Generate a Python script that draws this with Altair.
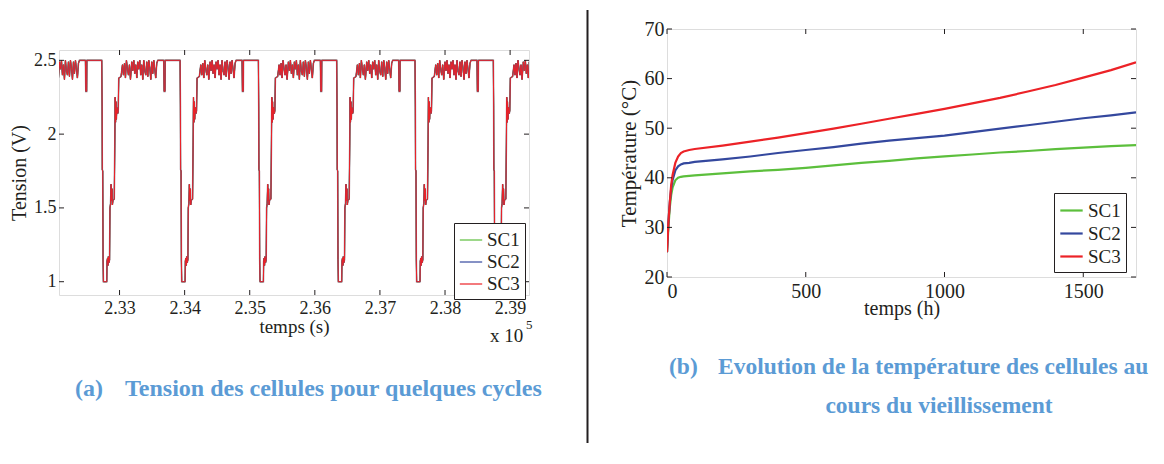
import altair as alt
import pandas as pd

FONT = "Liberation Serif"
INK = "#231f20"
CAPTION = "#5b9bd5"

CELLS = ["SC1", "SC2", "SC3"]
COLORS = ["#5cbf3c", "#34489e", "#ec2227"]

# ---------- (a) voltage over a few cycles ----------
CYCLE_STARTS = [231524, 232727, 233930, 235133, 236336, 237539, 238742]
CYCLE_OFFSETS = [0, 5, 8, 15, 20, 25, 77, 81, 89, 95, 101, 111, 120, 126, 135, 143,
                 149, 157, 163, 172, 192, 200, 206, 212, 218, 224, 233, 246, 253, 261,
                 296, 318, 333, 349, 364, 379, 395, 410, 425, 441, 461, 476, 492, 507,
                 522, 538, 553, 568, 584, 599, 614, 630, 645, 660, 676, 691, 707, 722,
                 737, 753, 768, 783, 799, 814, 829, 845, 860, 880, 952, 958, 971, 974, 1201]
CYCLE_VOLTS = [2.50, 2.19, 1.76, 1.75, 1.15, 1.00, 1.00, 1.14, 1.16, 1.11, 1.17, 1.13, 1.15, 1.50,
               1.53, 1.66, 1.55, 1.63, 1.52, 1.55, 1.56, 1.92, 2.25, 2.08, 2.22, 2.10, 2.18, 2.14,
               2.16, 2.38, 2.39, 2.47, 2.40, 2.48, 2.38, 2.50, 2.44, 2.40, 2.47, 2.37, 2.49, 2.43,
               2.50, 2.41, 2.47, 2.38, 2.49, 2.44, 2.50, 2.40, 2.47, 2.37, 2.50, 2.43, 2.40, 2.49,
               2.39, 2.50, 2.45, 2.37, 2.49, 2.41, 2.50, 2.44, 2.38, 2.48, 2.50, 2.50, 2.50, 2.29,
               2.29, 2.50, 2.50]
XT_A = [233000, 234000, 235000, 236000, 237000, 238000, 239000]
YT_A = [1, 1.5, 2, 2.5]
XDOM_A = [232070, 239290]
YDOM_A = [0.91, 2.57]

# ---------- (b) temperature during ageing ----------
HOURS = [0, 5, 10, 15, 20, 30, 40, 50, 60, 80, 100, 200, 300, 400, 500, 600, 700, 800,
         900, 1000, 1100, 1200, 1300, 1400, 1500, 1600, 1690]
T_SC1 = [25.0, 30.0, 34.0, 36.5, 38.0, 39.5, 40.0, 40.2, 40.3, 40.4, 40.5, 40.9, 41.3, 41.6,
         42.0, 42.5, 43.0, 43.4, 43.9, 44.3, 44.7, 45.1, 45.4, 45.8, 46.1, 46.4, 46.6]
T_SC2 = [25.0, 31.0, 35.0, 37.8, 39.5, 41.5, 42.3, 42.7, 42.9, 43.0, 43.2, 43.7, 44.3, 45.0,
         45.6, 46.2, 46.9, 47.5, 48.0, 48.5, 49.2, 49.9, 50.6, 51.3, 52.0, 52.6, 53.2]
T_SC3 = [25.0, 31.0, 35.0, 38.5, 40.5, 43.0, 44.3, 45.0, 45.3, 45.6, 45.8, 46.5, 47.3, 48.1,
         49.0, 49.9, 50.9, 51.9, 52.9, 53.9, 55.0, 56.1, 57.4, 58.7, 60.2, 61.7, 63.3]
XT_B = [0, 500, 1000, 1500]
YT_B = [20, 30, 40, 50, 60, 70]
XDOM_B = [0, 1690]
YDOM_B = [20, 70]

W_A, H_A = 470, 245
W_B, H_B = 469, 248

rows = []
for cell in CELLS:
    for s in CYCLE_STARTS:
        for o, v in zip(CYCLE_OFFSETS, CYCLE_VOLTS):
            rows.append({"cell": cell, "t": s + o, "v": v})
df_a = pd.DataFrame(rows)

rows = []
for cell, temps in zip(CELLS, [T_SC1, T_SC2, T_SC3]):
    for h, t in zip(HOURS, temps):
        rows.append({"cell": cell, "h": h, "temp": t})
df_b = pd.DataFrame(rows)


def make_axis(title, values, lsize, tsize, lpad, tx, ty, angle=0, fmt=None, expr=None):
    kw = dict(title=title, values=values, domain=False, ticks=False, tickSize=0, grid=False,
              labelFont=FONT, labelFontSize=lsize, labelColor=INK, labelPadding=lpad,
              titleFont=FONT, titleFontSize=tsize, titleFontWeight="normal", titleColor=INK,
              titleX=tx, titleY=ty, titleAngle=angle, titleAlign="center", titleBaseline="middle")
    if fmt:
        kw["format"] = fmt
    if expr:
        kw["labelExpr"] = expr
    return alt.Axis(**kw)


def inner_ticks(xvals, yvals, xs, ys, xax, yax, W, H, L=5):
    dx = pd.DataFrame({"tx": xvals})
    dy = pd.DataFrame({"ty": yvals})
    base_x = alt.Chart(dx).mark_rule(color=INK, strokeWidth=1)
    base_y = alt.Chart(dy).mark_rule(color=INK, strokeWidth=1)
    xe = alt.X("tx:Q", scale=xs, axis=xax)
    ye = alt.Y("ty:Q", scale=ys, axis=yax)
    return [
        base_x.encode(x=xe, y=alt.value(0), y2=alt.value(L)),
        base_x.encode(x=xe, y=alt.value(H), y2=alt.value(H - L)),
        base_y.encode(y=ye, x=alt.value(0), x2=alt.value(L)),
        base_y.encode(y=ye, x=alt.value(W), x2=alt.value(W - L)),
    ]


def text(s, x, y, size, color=INK, weight="normal", align="left", baseline="middle"):
    return alt.Chart(pd.DataFrame({"s": [s]})).mark_text(
        font=FONT, fontSize=size, color=color, fontWeight=weight, align=align, baseline=baseline
    ).encode(text="s:N", x=alt.value(x), y=alt.value(y))


def legend(lx, ly, sw):
    return alt.Legend(title=None, orient="none", legendX=lx, legendY=ly, symbolType="stroke",
                      symbolSize=500, symbolStrokeWidth=sw, labelFont=FONT, labelFontSize=19,
                      labelColor=INK, strokeColor=INK, fillColor="white", padding=5,
                      rowPadding=0, labelOffset=4, direction="vertical")


# ----- panel (a) -----
xs_a = alt.Scale(domain=XDOM_A, nice=False, zero=False)
ys_a = alt.Scale(domain=YDOM_A, nice=False, zero=False)
xax_a = make_axis("temps (s)", XT_A, 18, 19, 4, W_A / 2, 31, expr="format(datum.value/100000,'.2f')")
yax_a = make_axis("Tension (V)", YT_A, 18, 20, 3, -40, H_A / 2, angle=270, fmt="~g")
xa = alt.X("t:Q", scale=xs_a, axis=xax_a)
ya = alt.Y("v:Q", scale=ys_a, axis=yax_a)

under_a = alt.Chart(df_a[df_a.cell == "SC2"]).mark_line(clip=True, color="#6a4a60", strokeWidth=1.6,
                                                        opacity=0.7).encode(x=xa, y=ya)
lines_a = alt.Chart(df_a).mark_line(clip=True, strokeWidth=1.0).encode(
    x=xa, y=ya,
    color=alt.Color("cell:N", scale=alt.Scale(domain=CELLS, range=COLORS), legend=legend(395, 173, 1.2)),
)
left = alt.layer(
    under_a, lines_a,
    *inner_ticks(XT_A, YT_A, xs_a, ys_a, xax_a, yax_a, W_A, H_A),
    text("x 10", 431, 286, 19),
    text("5", 467, 275, 13),
    text("(a)", 16, 339, 24, CAPTION, "bold"),
    text("Tension des cellules pour quelques cycles", 66, 339, 24, CAPTION, "bold"),
).properties(width=W_A, height=H_A)

spacer = alt.Chart(pd.DataFrame({"a": [0]})).mark_point(opacity=0, size=1).encode(
    x=alt.value(0), y=alt.value(0)
).properties(width=10, height=20, view=alt.ViewBackground(strokeOpacity=0))

left_block = alt.vconcat(spacer, left, spacing=0).resolve_legend(color="independent")

# ----- panel (b) -----
xs_b = alt.Scale(domain=XDOM_B, nice=False, zero=False)
ys_b = alt.Scale(domain=YDOM_B, nice=False, zero=False)
xax_b = make_axis("temps (h)", XT_B, 20, 20, 4, W_B / 2, 31, fmt="d")
yax_b = make_axis("Température (°C)", YT_B, 20, 21, 3, -38, H_B / 2, angle=270)
xb = alt.X("h:Q", scale=xs_b, axis=xax_b)
yb = alt.Y("temp:Q", scale=ys_b, axis=yax_b)
lines_b = alt.Chart(df_b).mark_line(clip=True, strokeWidth=2.2).encode(
    x=xb, y=yb,
    color=alt.Color("cell:N", scale=alt.Scale(domain=CELLS, range=COLORS), legend=legend(387, 164, 2.2)),
)
sep = alt.Chart(pd.DataFrame({"a": [0]})).mark_rule(color=INK, strokeWidth=2).encode(
    x=alt.value(-79.5), y=alt.value(-19), y2=alt.value(414)
)
right = alt.layer(
    sep, lines_b,
    *inner_ticks(XT_B, YT_B, xs_b, ys_b, xax_b, yax_b, W_B, H_B),
    text("(b)", 2, 338, 23.5, CAPTION, "bold"),
    text("Evolution de la température des cellules au", 51, 338, 23.5, CAPTION, "bold"),
    text("cours du vieillissement", 272, 377, 23.5, CAPTION, "bold", align="center"),
).properties(width=W_B, height=H_B)

chart = alt.hconcat(left_block, right, spacing=43).resolve_scale(
    x="independent", y="independent", color="independent"
).resolve_legend(color="independent").properties(
    padding={"left": 0, "top": 0, "right": 0, "bottom": 0}
).configure_view(stroke=INK, strokeWidth=1).configure(font=FONT, background="white")

chart.save("out.html", embed_options={"renderer": "svg", "actions": False})
